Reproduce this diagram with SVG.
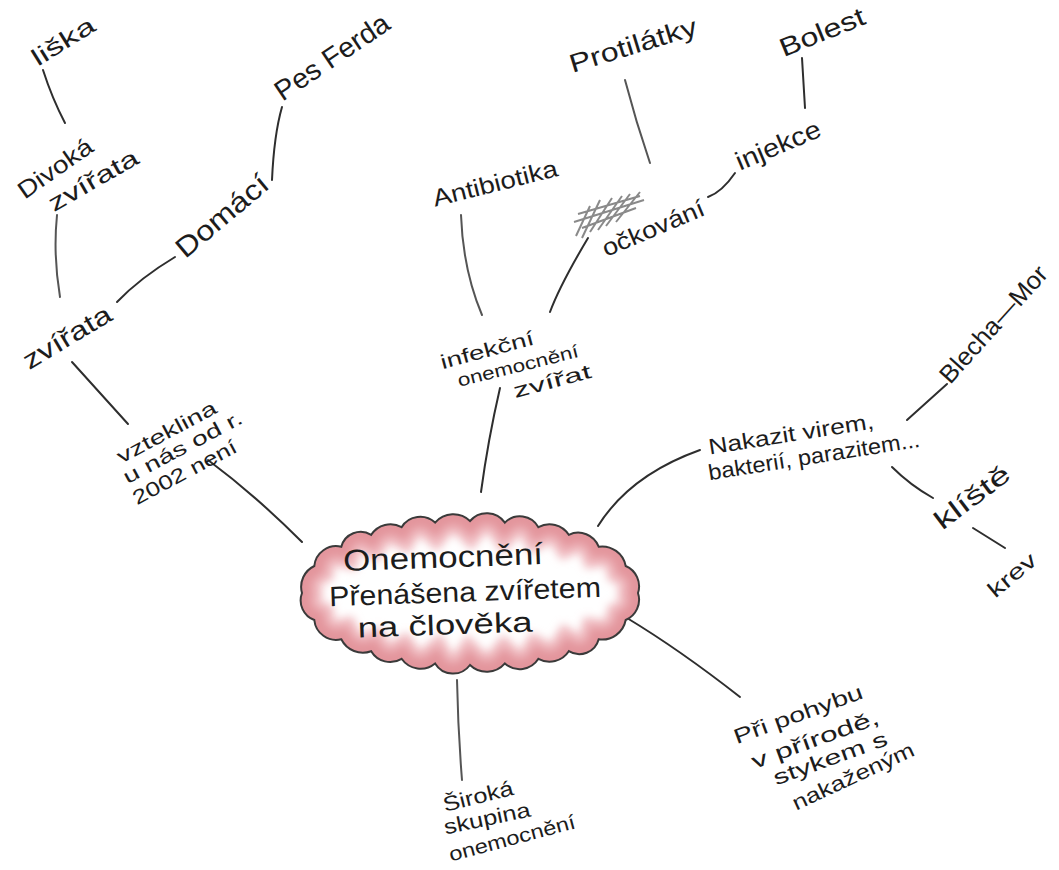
<svg xmlns="http://www.w3.org/2000/svg" width="1059" height="870" viewBox="0 0 1059 870">
<defs>
<style>
.t{font-family:"Liberation Sans","DejaVu Sans",sans-serif;fill:#1c1c1c;dominant-baseline:central;text-anchor:middle}
.c{fill:none;stroke:#2e2e2e;stroke-width:2;stroke-linecap:round}
.g{stroke:#555}
</style>
<path id="cloud" d="M638,593 A22,22 0 0 1 625.7,620 A24,24 0 0 1 598.7,639.3 A20,20 0 0 1 568.8,651.2 A23,23 0 0 1 538.4,658.8 A22,22 0 0 1 504.9,663.4 A24,24 0 0 1 470,665 A21,21 0 0 1 435.1,663.4 A23,23 0 0 1 401.6,658.8 A22,22 0 0 1 371.2,651.2 A24,24 0 0 1 341.3,639.3 A22,22 0 0 1 314.3,620 A21,21 0 0 1 302,593 A23,23 0 0 1 314.3,566 A22,22 0 0 1 341.3,546.7 A20,20 0 0 1 371.2,534.8 A23,23 0 0 1 401.6,527.2 A22,22 0 0 1 435.1,522.6 A24,24 0 0 1 470,521 A22,22 0 0 1 504.9,522.6 A21,21 0 0 1 538.4,527.2 A23,23 0 0 1 568.8,534.8 A22,22 0 0 1 598.7,546.7 A24,24 0 0 1 625.7,566 A22,22 0 0 1 638,593 Z"/>
<clipPath id="cc"><use href="#cloud"/></clipPath>
<filter id="soft" x="-10%" y="-20%" width="120%" height="140%"><feGaussianBlur stdDeviation="4"/></filter>
</defs>
<rect width="1059" height="870" fill="#ffffff"/>

<g id="connectors">
<path class="c" d="M43,70 Q52,98 65,123"/>
<path class="c g" d="M57,215 Q53,255 60,297"/>
<path class="c" d="M117,302 Q140,278 175,257"/>
<path class="c" d="M272,180 Q274,135 282,107"/>
<path class="c" d="M72,362 L128,424"/>
<path class="c" d="M208,460 Q255,495 302,542"/>
<path class="c g" d="M461,215 Q463,270 482,315"/>
<path class="c" d="M550,312 Q560,285 588,238"/>
<path class="c" d="M500,388 Q488,440 481,492"/>
<path class="c g" d="M625,80 Q636,122 650,163"/>
<path class="c" d="M708,197 Q722,192 735,173"/>
<path class="c" d="M802,58 L805,108"/>
<path class="c" d="M598,526 Q630,475 700,450"/>
<path class="c" d="M907,420 L947,384"/>
<path class="c" d="M892,467 Q910,485 933,498"/>
<path class="c" d="M973,528 L1005,548"/>
<path class="c" d="M627,618 Q680,650 740,697"/>
<path class="c g" d="M457,680 Q458,730 462,780"/>
</g>

<g id="center">
<use href="#cloud" fill="#ffffff"/>
<g clip-path="url(#cc)">
<use href="#cloud" fill="none" stroke="#f0bcc1" stroke-width="40" filter="url(#soft)"/>
<use href="#cloud" fill="none" stroke="#e3959c" stroke-width="22" filter="url(#soft)"/>
</g>
<use href="#cloud" fill="none" stroke="#3a3a3a" stroke-width="2"/>
<text class="t" x="443" y="557" font-size="30" textLength="200" lengthAdjust="spacingAndGlyphs" transform="rotate(-2 443 557)">Onemocnění</text>
<text class="t" x="465" y="592" font-size="28" textLength="272" lengthAdjust="spacingAndGlyphs" transform="rotate(-2 465 592)">Přenášena zvířetem</text>
<text class="t" x="445" y="625" font-size="28" textLength="175" lengthAdjust="spacingAndGlyphs" transform="rotate(-2 445 625)">na člověka</text>
</g>

<g id="liska"><text class="t" x="63" y="41" font-size="24" textLength="70" lengthAdjust="spacingAndGlyphs" transform="rotate(-32 63 41)">liška</text></g>
<g id="divoka">
<text class="t" x="55" y="168" font-size="24" textLength="86" lengthAdjust="spacingAndGlyphs" transform="rotate(-35 55 168)">Divoká</text>
<text class="t" x="93" y="180" font-size="24" textLength="100" lengthAdjust="spacingAndGlyphs" transform="rotate(-30 93 180)">zvířata</text>
</g>
<g id="pes"><text class="t" x="332" y="57" font-size="28" textLength="132" lengthAdjust="spacingAndGlyphs" transform="rotate(-34 332 57)">Pes Ferda</text></g>
<g id="domaci"><text class="t" x="222" y="216" font-size="28" textLength="112" lengthAdjust="spacingAndGlyphs" transform="rotate(-40 222 216)">Domácí</text></g>
<g id="zvirata"><text class="t" x="67" y="337" font-size="26" textLength="99" lengthAdjust="spacingAndGlyphs" transform="rotate(-31 67 337)">zvířata</text></g>
<g id="vzteklina" transform="translate(175 450) rotate(-28)">
<text class="t" x="1" y="-20" font-size="20" textLength="110" lengthAdjust="spacingAndGlyphs">vzteklina</text>
<text class="t" x="8" y="1" font-size="20" textLength="132" lengthAdjust="spacingAndGlyphs">u nás od r.</text>
<text class="t" x="-2" y="24" font-size="20" textLength="115" lengthAdjust="spacingAndGlyphs">2002 není</text>
</g>
<g id="antibiotika"><text class="t" x="495" y="183" font-size="24" textLength="128" lengthAdjust="spacingAndGlyphs" transform="rotate(-14 495 183)">Antibiotika</text></g>
<g id="protilatky"><text class="t" x="633" y="45" font-size="26" textLength="132" lengthAdjust="spacingAndGlyphs" transform="rotate(-17 633 45)">Protilátky</text></g>
<g id="bolest"><text class="t" x="822" y="32" font-size="26" textLength="90" lengthAdjust="spacingAndGlyphs" transform="rotate(-22 822 32)">Bolest</text></g>
<g id="injekce"><text class="t" x="778" y="145" font-size="26" textLength="90" lengthAdjust="spacingAndGlyphs" transform="rotate(-23 778 145)">injekce</text></g>
<g id="ockovani">
<path d="M576,236 L590,206 M582,238 L600,200 M590,232 L612,198 M598,230 L622,196 M606,226 L630,194 M616,222 L640,192 M574,222 L644,200 M578,214 L640,196 M582,228 L636,208" fill="none" stroke="#8a8a8a" stroke-width="2"/>
<text class="t" x="653" y="228" font-size="24" textLength="109" lengthAdjust="spacingAndGlyphs" transform="rotate(-23 653 228)">očkování</text>
</g>
<g id="infekcni">
<text class="t" x="487" y="350" font-size="20" textLength="96" lengthAdjust="spacingAndGlyphs" transform="rotate(-15 487 350)">infekční</text>
<text class="t" x="518" y="366" font-size="18" textLength="124" lengthAdjust="spacingAndGlyphs" transform="rotate(-14 518 366)">onemocnění</text>
<text class="t" x="552" y="381" font-size="20" textLength="80" lengthAdjust="spacingAndGlyphs" transform="rotate(-15 552 381)">zvířat</text>
</g>
<g id="nakazit">
<text class="t" x="791" y="434" font-size="22" textLength="167" lengthAdjust="spacingAndGlyphs" transform="rotate(-9 791 434)">Nakazit virem,</text>
<text class="t" x="814" y="456" font-size="22" textLength="214" lengthAdjust="spacingAndGlyphs" transform="rotate(-9 814 456)">bakterií, parazitem...</text>
</g>
<g id="blecha"><text class="t" x="993" y="324" font-size="25" textLength="148" lengthAdjust="spacingAndGlyphs" transform="rotate(-48 993 324)">Blecha—Mor</text></g>
<g id="kliste"><text class="t" x="972" y="497" font-size="26" textLength="88" lengthAdjust="spacingAndGlyphs" transform="rotate(-37 972 497)">klíště</text></g>
<g id="krev"><text class="t" x="1012" y="575" font-size="22" textLength="56" lengthAdjust="spacingAndGlyphs" transform="rotate(-40 1012 575)">krev</text></g>
<g id="siroka">
<text class="t" x="478" y="796" font-size="21" textLength="72" lengthAdjust="spacingAndGlyphs" transform="rotate(-14 478 796)">Široká</text>
<text class="t" x="487" y="818" font-size="21" textLength="88" lengthAdjust="spacingAndGlyphs" transform="rotate(-12 487 818)">skupina</text>
<text class="t" x="512" y="838" font-size="20" textLength="130" lengthAdjust="spacingAndGlyphs" transform="rotate(-15 512 838)">onemocnění</text>
</g>
<g id="pri">
<text class="t" x="798" y="714" font-size="21" textLength="136" lengthAdjust="spacingAndGlyphs" transform="rotate(-20 798 714)">Při pohybu</text>
<text class="t" x="815" y="739" font-size="21" textLength="134" lengthAdjust="spacingAndGlyphs" transform="rotate(-20 815 739)">v přírodě,</text>
<text class="t" x="830" y="758" font-size="21" textLength="120" lengthAdjust="spacingAndGlyphs" transform="rotate(-20 830 758)">stykem s</text>
<text class="t" x="853" y="776" font-size="21" textLength="132" lengthAdjust="spacingAndGlyphs" transform="rotate(-25 853 776)">nakaženým</text>
</g>
</svg>
